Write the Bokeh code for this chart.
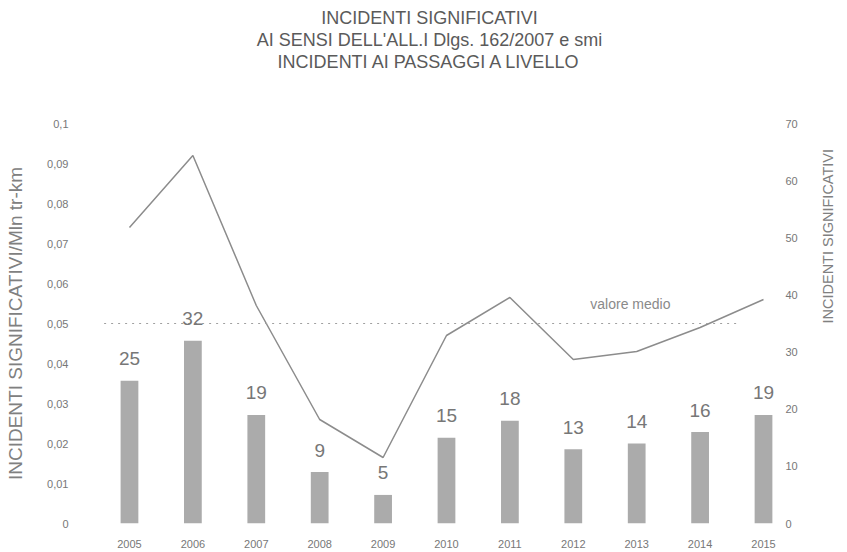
import math
from bokeh.plotting import figure
from bokeh.models import (Range1d, LinearAxis, FixedTicker, ColumnDataSource,
                          LabelSet, Label, Title)
from bokeh.core.properties import value
from bokeh.embed import file_html
from bokeh.resources import INLINE

# ---- data ----
years = ["2005", "2006", "2007", "2008", "2009", "2010", "2011", "2012", "2013", "2014", "2015"]
incidents = [25, 32, 19, 9, 5, 15, 18, 13, 14, 16, 19]
rate = [0.074, 0.092, 0.0545, 0.026, 0.0165, 0.047, 0.0565, 0.041, 0.043, 0.049, 0.056]
mean_rate = 0.05
rate_ticks = [0, 0.01, 0.02, 0.03, 0.04, 0.05, 0.06, 0.07, 0.08, 0.09, 0.1]
rate_tick_labels = ["0", "0,01", "0,02", "0,03", "0,04", "0,05", "0,06", "0,07", "0,08", "0,09", "0,1"]
count_ticks = [0, 10, 20, 30, 40, 50, 60, 70]
title_lines = ["INCIDENTI SIGNIFICATIVI",
               "AI SENSI DELL'ALL.I Dlgs. 162/2007 e smi",
               "INCIDENTI AI PASSAGGI A LIVELLO"]
left_title = "INCIDENTI SIGNIFICATIVI/Mln tr-km"
right_title = "INCIDENTI SIGNIFICATIVI"

xs = list(range(len(years)))
FONT = "Liberation Sans"
TXT = "#777777"

W, H = 847, 552
LEFT, RIGHT, TOP, BOTTOM = 78, 67, 123, 29

p = figure(width=W, height=H, output_backend="svg", toolbar_location=None,
           title=None,
           x_range=Range1d(-0.804, 10.268), y_range=Range1d(0, 0.1),
           min_border_left=LEFT, min_border_right=RIGHT,
           min_border_bottom=BOTTOM, min_border_top=TOP)
p.outline_line_color = None
p.xgrid.grid_line_color = None
p.ygrid.grid_line_color = None

p.extra_y_ranges = {"n": Range1d(0, 70)}

src = ColumnDataSource(dict(x=xs, n=incidents, r=rate, lab=[str(v) for v in incidents]))

p.vbar(x="x", top="n", width=0.28, source=src, y_range_name="n",
       fill_color="#ababab", line_color=None)

p.line(x="x", y="r", source=src, line_color="#8c8c8c", line_width=1.5)

p.line(x=[-0.4, 9.6], y=[mean_rate, mean_rate], line_color="#a0a0a0",
       line_width=1.2, line_dash="2 5")
p.add_layout(Label(x=7.9, y=mean_rate, y_offset=20, text="valore medio",
                   text_align="center", text_baseline="middle", text_font=FONT,
                   text_font_size="14px", text_color="#8a8a8a"))

p.add_layout(LabelSet(x="x", y="n", text="lab", source=src, y_range_name="n",
                      y_offset=22, text_align="center", text_baseline="middle",
                      text_font=value(FONT), text_font_size=value("19px"),
                      text_color=value(TXT)))

# spacer between the page title and the plot area
p.add_layout(Title(text=" ", align="center", text_font=FONT, text_font_size="17px",
                   standoff=31), "above")
# page title: three centred lines, nearest line added first
for t in reversed(title_lines):
    p.add_layout(Title(text=t, align="center", text_font=FONT, text_font_size="18px",
                       text_font_style="normal", text_color="#5a5a5a", standoff=0),
                 "above")

# axes styling
def style(ax):
    ax.axis_line_color = None
    ax.major_tick_line_color = None
    ax.minor_tick_line_color = None
    ax.major_tick_out = 0
    ax.minor_tick_out = 0
    ax.major_label_text_font = FONT
    ax.major_label_text_font_size = "11px"
    ax.major_label_text_color = TXT
    ax.axis_label_text_font = FONT
    ax.axis_label_text_font_style = "normal"
    ax.axis_label_text_color = "#808080"

xa = p.xaxis[0]
style(xa)
xa.ticker = FixedTicker(ticks=xs)
xa.major_label_overrides = {i: y for i, y in enumerate(years)}
xa.major_label_standoff = 16

ya = p.yaxis[0]
style(ya)
ya.ticker = FixedTicker(ticks=rate_ticks)
ya.major_label_overrides = {v: s for v, s in zip(rate_ticks, rate_tick_labels)}
ya.major_label_standoff = 10
ya.axis_label = left_title
ya.axis_label_text_font_size = "19px"
ya.axis_label_standoff = 18

ra = LinearAxis(y_range_name="n", ticker=FixedTicker(ticks=count_ticks))
style(ra)
ra.major_label_standoff = 5
ra.axis_label = right_title
ra.axis_label_text_font_size = "14.5px"
ra.axis_label_standoff = 27
ra.axis_label_orientation = math.pi / 2
p.add_layout(ra, "right")

open("out.html", "w").write(file_html(p, INLINE))
